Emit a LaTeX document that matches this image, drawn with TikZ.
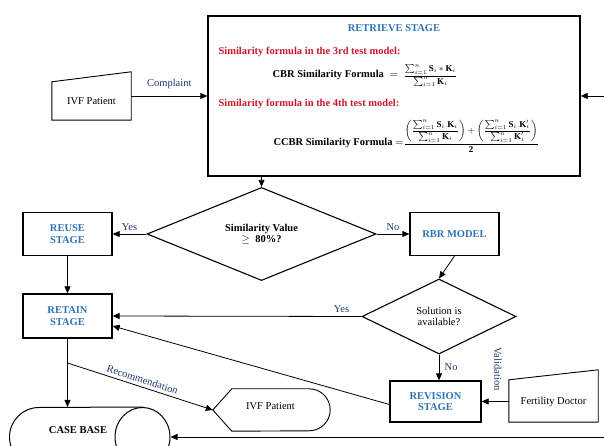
\documentclass[tikz,border=0pt]{standalone}
\usepackage{amsmath}
\usepackage{fontspec}
\setmainfont{Liberation Serif}
\usepackage[x11names]{xcolor}
\usetikzlibrary{calc,positioning,shapes.geometric,arrows.meta}
\definecolor{stageblue}{RGB}{46,117,182}
\definecolor{formred}{RGB}{200,25,40}
\definecolor{labelnavy}{RGB}{31,56,110}
\newcommand{\figfont}{\fontsize{10.5}{11.5}\selectfont}
\newcommand{\mathfont}{\fontsize{9}{10}\selectfont}
\newcommand{\sumn}{\textstyle\sum\nolimits_{i=1}^{n}}

\begin{document}
\begin{tikzpicture}[x=1pt,y=1pt,
    every node/.style={font=\figfont},
    stage/.style={draw,line width=1.3pt,minimum width=89pt,minimum height=43pt,align=center,font=\figfont\bfseries,text=stageblue},
    decide/.style={draw,diamond,line width=1.1pt,inner sep=0pt,align=center},
    arr/.style={line width=0.8pt,-{Triangle[length=7pt,width=6pt]}},
    lbl/.style={text=labelnavy}]
       \useasboundingbox (0,0) rectangle (604,446);
       % retrieve stage
       \node[draw,line width=1.3pt,minimum width=372pt,minimum height=160pt] (retrieve) at (394,350) {};
       \node[font=\figfont\bfseries,text=stageblue] (rtitle) at (394,418) {RETRIEVE STAGE};
       \node[anchor=west,font=\figfont\bfseries,text=formred] (model3) at (215,394) {Similarity formula in the 3rd test model:};
       \node[anchor=base west,font=\figfont\bfseries] (cbr) at (269,368) {CBR Similarity Formula \(\;=\;\) {\mathfont\(\dfrac{\sumn\mathbf{S}_{i}\ast\mathbf{K}_{i}}{\sumn\mathbf{K}_{i}}\)}};
       \node[anchor=west,font=\figfont\bfseries,text=formred] (model4) at (215,342) {Similarity formula in the 4th test model:};
       \node[anchor=base west,font=\figfont\bfseries] (ccbr) at (270,300) {CCBR Similarity Formula \(=\){\mathfont\(\dfrac{\left(\dfrac{\sumn\mathbf{S}_{i}.\mathbf{K}_{i}}{\sumn\mathbf{K}_{i}}\right)+\left(\dfrac{\sumn\mathbf{S}_{i}.\mathbf{K}'_{i}}{\sumn\mathbf{K}'_{i}}\right)}{\mathbf{2}}\)}};
       % patient input
       \node[minimum width=79pt,minimum height=48pt,inner sep=0pt] (ivfin) at (91.5,350) {};
       \draw[line width=0.9pt] (ivfin.south west) -- ($(ivfin.north west)+(0,-10)$) -- (ivfin.north east) -- (ivfin.south east) -- cycle;
       \node (ivfintext) at ($(ivfin.center)+(0,-5)$) {IVF Patient};
       \draw[arr] (ivfin.east) -- (retrieve.west) node[lbl,midway,above=4pt] {Complaint};
       \coordinate (loopin) at (610,350);
       \draw[arr] (loopin) -- (retrieve.east);
       % decisions and stages
       \node[decide,font=\figfont\bfseries,minimum width=229pt,minimum height=78pt] (simdec) at (261.5,212) {Similarity Value\\ \(\geq\)~ 80\%?};
       \draw[arr] (simdec.north |- retrieve.south) -- (simdec.north);
       \node[stage] (reuse) at (67.5,212) {REUSE\\STAGE};
       \draw[arr] (simdec.west) -- (reuse.east) node[lbl,midway,above] {Yes};
       \node[stage] (rbr) at (454.5,212) {RBR MODEL};
       \draw[arr] (simdec.east) -- (rbr.west) node[lbl,midway,above] {No};
       \node[decide,minimum width=154pt,minimum height=75pt] (soldec) at (439,129.5) {Solution is\\available?};
       \draw[arr] (rbr.south) -- (soldec.north);
       \node[stage,minimum height=44pt] (retain) at (67.5,130) {RETAIN\\STAGE};
       \draw[arr] (reuse) -- (retain);
       \draw[arr] (soldec.west) -- (retain.east) node[lbl,pos=0.08,above] {Yes};
       \node[stage,minimum width=91pt,minimum height=41pt] (revision) at (435.5,44.5) {REVISION\\STAGE};
       \draw[arr] (soldec.south) -- (soldec.south |- revision.north) node[lbl,midway,right=2pt] {No};
       \draw[arr] ([yshift=-3pt]revision.west) -- ([yshift=-10pt]retain.east);
       % fertility doctor
       \node[minimum width=89pt,minimum height=52pt,inner sep=0pt] (doctor) at (553.5,50) {};
       \draw[line width=0.9pt] (doctor.south west) -- ($(doctor.north west)+(0,-10)$) -- (doctor.north east) -- (doctor.south east) -- cycle;
       \node (doctortext) at ($(doctor.center)+(0,-6)$) {Fertility Doctor};
       \draw[arr] (doctor.west |- revision.east) -- (revision.east);
       \node[lbl,rotate=-90] (valid) at (498,77) {Validation};
       % case base
       \node[ellipse,draw,line width=1pt,minimum width=55pt,minimum height=59pt,inner sep=0pt] (cbend) at (142.5,9) {};
       \draw[line width=1pt] (cbend.north) -- (39,38.5) arc[start angle=90,end angle=270,radius=29.5pt] -- (cbend.south);
       \node[font=\figfont\bfseries] (casebase) at (78,16) {CASE BASE};
       \draw[arr] (retain.south) -- (retain.south |- cbend.north);
       \coordinate (loopbase) at (610,9);
       \draw[arr] (loopbase) -- (cbend.east);
       % patient output
       \coordinate (recfork) at (67.5,83);
       \node[minimum width=117pt,minimum height=42pt,inner sep=0pt] (ivfout) at (271.5,36) {};
       \draw[line width=0.9pt] (ivfout.west) -- ($(ivfout.north west)+(19,0)$) -- ($(ivfout.north east)+(-21,0)$) arc[start angle=90,end angle=-90,radius=21pt] -- ($(ivfout.south west)+(19,0)$) -- cycle;
       \node (ivfouttext) at ($(ivfout.center)+(-1,4)$) {IVF Patient};
       \draw[arr] (recfork) -- (ivfout.west) node[lbl,midway,sloped,above] {Recommendation};
     \end{tikzpicture}
\end{document}
